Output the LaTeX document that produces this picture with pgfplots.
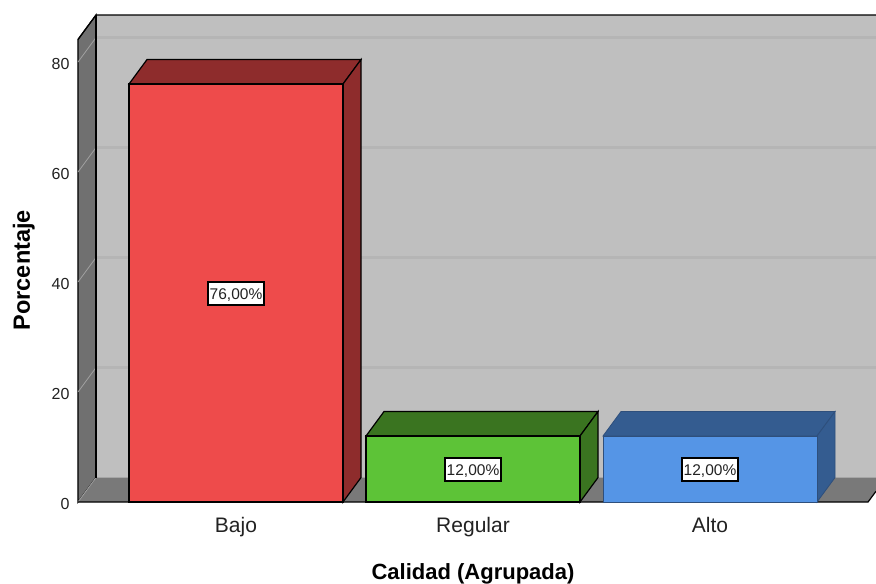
\documentclass[border=0pt]{standalone}
\usepackage{fontspec}
\setmainfont{Liberation Sans}
\usepackage{pgfplots}
\pgfplotsset{compat=1.18}
\definecolor{wallside}{HTML}{707070}
\definecolor{wallfloor}{HTML}{797979}
\definecolor{wallback}{HTML}{BFBFBF}
\definecolor{gridback}{HTML}{B5B5B5}
\definecolor{gridside}{HTML}{A0A0A0}
\definecolor{redfront}{HTML}{EE4B4B}
\definecolor{redshade}{HTML}{8E2C2C}
\definecolor{greenfront}{HTML}{5DC337}
\definecolor{greenshade}{HTML}{3A7420}
\definecolor{bluefront}{HTML}{5595E6}
\definecolor{blueshade}{HTML}{345C90}
\definecolor{blueedge}{HTML}{2E4F7C}
\definecolor{labeltext}{HTML}{222222}
\begin{document}
\begin{tikzpicture}
\useasboundingbox (-78pt,-82pt) rectangle (798pt,502pt);
\begin{axis}[
  at={(0,0)}, anchor=south west,
  scale only axis, width=798pt, height=487pt,
  xmin=-0.6667, xmax=2.7004, ymin=0, ymax=88.55,
  clip=false,
  axis line style={draw=none},
  major tick length=0pt,
  xtick={0,1,2}, xticklabels={Bajo,Regular,Alto},
  ytick={0,20,40,60,80},
  /pgf/number format/assume math mode=true,
  xticklabel style={font=\fontsize{21}{24}\selectfont, text=labeltext, yshift=-12pt},
  yticklabel style={font=\fontsize{16}{18}\selectfont, text=labeltext, xshift=-5pt, yshift=-1.5pt},
  xlabel={\textbf{Calidad (Agrupada)}},
  ylabel={\textbf{Porcentaje}},
  xlabel style={font=\fontsize{22}{24}\selectfont, at={(axis description cs:0.495,-0.1475)}, anchor=center},
  ylabel style={font=\fontsize{23.5}{26}\selectfont, at={(axis description cs:-0.0680,0.476)}, anchor=center},
]
% chart box: back wall, left wall, floor
\addplot[fill=wallback, draw=none] coordinates {(-0.5907,4.45) (2.7004,4.45) (2.7004,88.55) (-0.5907,88.55)} --cycle;
\addplot[fill=wallside, draw=black, line width=1.2pt] coordinates {(-0.6667,0) (-0.5907,4.45) (-0.5907,88.55) (-0.6667,84.1)} --cycle;
\addplot[fill=wallfloor, draw=none] coordinates {(-0.6667,0) (2.6667,0) (2.7004,1.95) (2.7004,4.45) (-0.5907,4.45)} --cycle;

% gridlines on the back wall
\addplot[gridback, line width=2.4pt] coordinates {(-0.5907,24.45) (2.7004,24.45)};
\addplot[gridback, line width=2.4pt] coordinates {(-0.5907,44.45) (2.7004,44.45)};
\addplot[gridback, line width=2.4pt] coordinates {(-0.5907,64.45) (2.7004,64.45)};
\addplot[gridback, line width=2.4pt] coordinates {(-0.5907,84.45) (2.7004,84.45)};
% gridlines running across the left wall
\addplot[gridside, line width=0.8pt] coordinates {(-0.6667,0) (-0.5907,4.45)};
\addplot[gridside, line width=0.8pt] coordinates {(-0.6667,20) (-0.5907,24.45)};
\addplot[gridside, line width=0.8pt] coordinates {(-0.6667,40) (-0.5907,44.45)};
\addplot[gridside, line width=0.8pt] coordinates {(-0.6667,60) (-0.5907,64.45)};
\addplot[gridside, line width=0.8pt] coordinates {(-0.6667,80) (-0.5907,84.45)};

% box outlines
\addplot[black, line width=1.2pt] coordinates {(-0.6667,84.1) (-0.5907,88.55) (2.7004,88.55)};
\addplot[black, line width=1.2pt] coordinates {(-0.5907,88.55) (-0.5907,4.45)};
\addplot[black, line width=1.2pt] coordinates {(-0.6667,0) (2.6667,0) (2.7004,1.95)};

% Bajo
\addplot[fill=redshade, draw=black, line width=1.2pt] coordinates {(-0.4515,76) (0.4515,76) (0.5275,80.45) (-0.3755,80.45)} --cycle;
\addplot[fill=redshade, draw=black, line width=1.2pt] coordinates {(0.4515,0) (0.5275,4.45) (0.5275,80.45) (0.4515,76)} --cycle;
\addplot[ybar, bar width=214pt, bar shift=0pt, fill=redfront, draw=black, line width=1.2pt] coordinates {(0,76)};

% Regular
\addplot[fill=greenshade, draw=black, line width=1.2pt] coordinates {(0.5485,12) (1.4515,12) (1.5275,16.45) (0.6245,16.45)} --cycle;
\addplot[fill=greenshade, draw=black, line width=1.2pt] coordinates {(1.4515,0) (1.5275,4.45) (1.5275,16.45) (1.4515,12)} --cycle;
\addplot[ybar, bar width=214pt, bar shift=0pt, fill=greenfront, draw=black, line width=1.2pt] coordinates {(1,12)};

% Alto
\addplot[fill=blueshade, draw=blueedge, line width=0.8pt] coordinates {(1.5485,12) (2.4515,12) (2.5275,16.45) (1.6245,16.45)} --cycle;
\addplot[fill=blueshade, draw=blueedge, line width=0.8pt] coordinates {(2.4515,0) (2.5275,4.45) (2.5275,16.45) (2.4515,12)} --cycle;
\addplot[ybar, bar width=214pt, bar shift=0pt, fill=bluefront, draw=blueedge, line width=0.8pt] coordinates {(2,12)};

% value labels at mid height of each bar
\addplot[draw=none, point meta=explicit,
  nodes near coords={\pgfmathprintnumber[fixed, fixed zerofill, precision=2, use comma, assume math mode=true]{\pgfplotspointmeta}\%},
  nodes near coords align={center},
  every node near coord/.style={fill=white, draw=black, line width=1.2pt, inner xsep=1.8pt, text height=14.5pt, text depth=3.5pt, inner ysep=2.5pt, yshift=-0.5pt, text=labeltext, font=\fontsize{15.5}{17}\selectfont}
] coordinates {(0,38) [76] (1,6) [12] (2,6) [12]};
\end{axis}
\end{tikzpicture}
\end{document}
